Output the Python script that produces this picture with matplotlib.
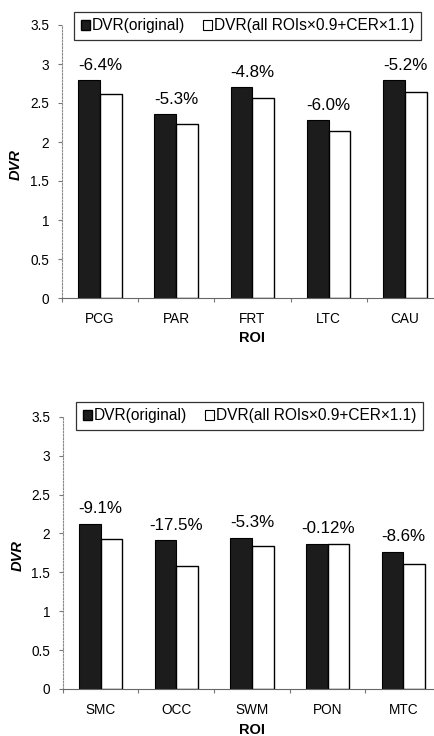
import numpy as np
import matplotlib
matplotlib.use("Agg")
import matplotlib.pyplot as plt
from matplotlib.patches import Patch

plt.rcParams["font.family"] = ["Liberation Sans", "DejaVu Sans"]

# Regional DVR values, upper panel
rois_top = ["PCG", "PAR", "FRT", "LTC", "CAU"]
dvr_orig_top = [2.79, 2.355, 2.70, 2.28, 2.79]
dvr_mod_top = [2.611, 2.230, 2.570, 2.143, 2.645]
change_top = ["-6.4%", "-5.3%", "-4.8%", "-6.0%", "-5.2%"]

# Regional DVR values, lower panel
rois_bot = ["SMC", "OCC", "SWM", "PON", "MTC"]
dvr_orig_bot = [2.12, 1.91, 1.94, 1.87, 1.765]
dvr_mod_bot = [1.927, 1.576, 1.837, 1.868, 1.613]
change_bot = ["-9.1%", "-17.5%", "-5.3%", "-0.12%", "-8.6%"]

yticks = [0, 0.5, 1, 1.5, 2, 2.5, 3, 3.5]
ytick_labels = ["0", "0.5", "1", "1.5", "2", "2.5", "3", "3.5"]

label_orig = "DVR(original)"
label_mod = "DVR(all ROIs\u00d70.9+CER\u00d71.1)"

W, H = 434, 736
fig = plt.figure(figsize=(W / 100, H / 100), dpi=100)


def draw_panel(rect, rois, orig, mod, changes, legend_xy, xlabel_y):
    ax = fig.add_axes(rect)
    x = np.arange(len(rois))
    bw = 0.285
    ax.bar(x - bw / 2, orig, bw, color="#1c1c1c", edgecolor="black", linewidth=0.8)
    ax.bar(x + bw / 2, mod, bw, color="white", edgecolor="black", linewidth=1.0)
    for xi, v, txt in zip(x, orig, changes):
        ax.annotate(txt, (xi, v), xytext=(0, 5.5), textcoords="offset points",
                    ha="center", va="bottom", fontsize=12.2)

    ax.set_xlim(-0.5, len(rois) - 0.5)
    ax.set_ylim(0, 3.5)
    ax.set_yticks(yticks)
    ax.set_yticklabels(ytick_labels)
    ax.set_xticks(x)
    ax.set_xticklabels(rois)
    ax.set_xticks(np.arange(len(rois) + 1) - 0.5, minor=True)
    ax.tick_params(axis="x", which="major", length=0, pad=10, labelsize=9.8)
    ax.tick_params(axis="x", which="minor", length=3, color="#777777", width=0.8)
    ax.tick_params(axis="y", length=3, color="#777777", width=0.8, pad=6, labelsize=9.8)

    for side in ("top", "right"):
        ax.spines[side].set_visible(False)
    ax.spines["left"].set_color("#8a8a8a")
    ax.spines["left"].set_linestyle((0, (1.5, 1.5)))
    ax.spines["bottom"].set_color("#666666")
    ax.spines["bottom"].set_linestyle((0, (3, 1)))

    ax.set_ylabel("DVR", fontsize=10.5, fontweight="bold", fontstyle="italic")
    ax.yaxis.set_label_coords(-0.101, 0.49)
    ax.set_xlabel("ROI", fontsize=10.5, fontweight="bold")
    ax.xaxis.set_label_coords(0.5, xlabel_y)

    handles = [Patch(facecolor="#1c1c1c", edgecolor="black", label=label_orig),
               Patch(facecolor="white", edgecolor="black", linewidth=0.8, label=label_mod)]
    leg = fig.legend(handles=handles, loc="upper left", bbox_to_anchor=legend_xy,
                     bbox_transform=fig.transFigure, ncol=2, fontsize=11.2,
                     frameon=True, fancybox=False, borderaxespad=0,
                     handlelength=0.6, handleheight=0.6, handletextpad=0.15,
                     columnspacing=1.1, borderpad=0.42)
    leg.get_frame().set_edgecolor("black")
    leg.get_frame().set_linewidth(0.9)
    return ax


draw_panel([61.7 / W, 1 - 298 / H, 381.5 / W, 273 / H],
           rois_top, dvr_orig_top, dvr_mod_top, change_top,
           (74 / W, 1 - 11.7 / H), -0.12)
draw_panel([62.7 / W, 1 - 689 / H, 378.5 / W, 272.3 / H],
           rois_bot, dvr_orig_bot, dvr_mod_bot, change_bot,
           (76 / W, 1 - 401.7 / H), -0.125)

fig.savefig("out.png", dpi=100, facecolor="white")
